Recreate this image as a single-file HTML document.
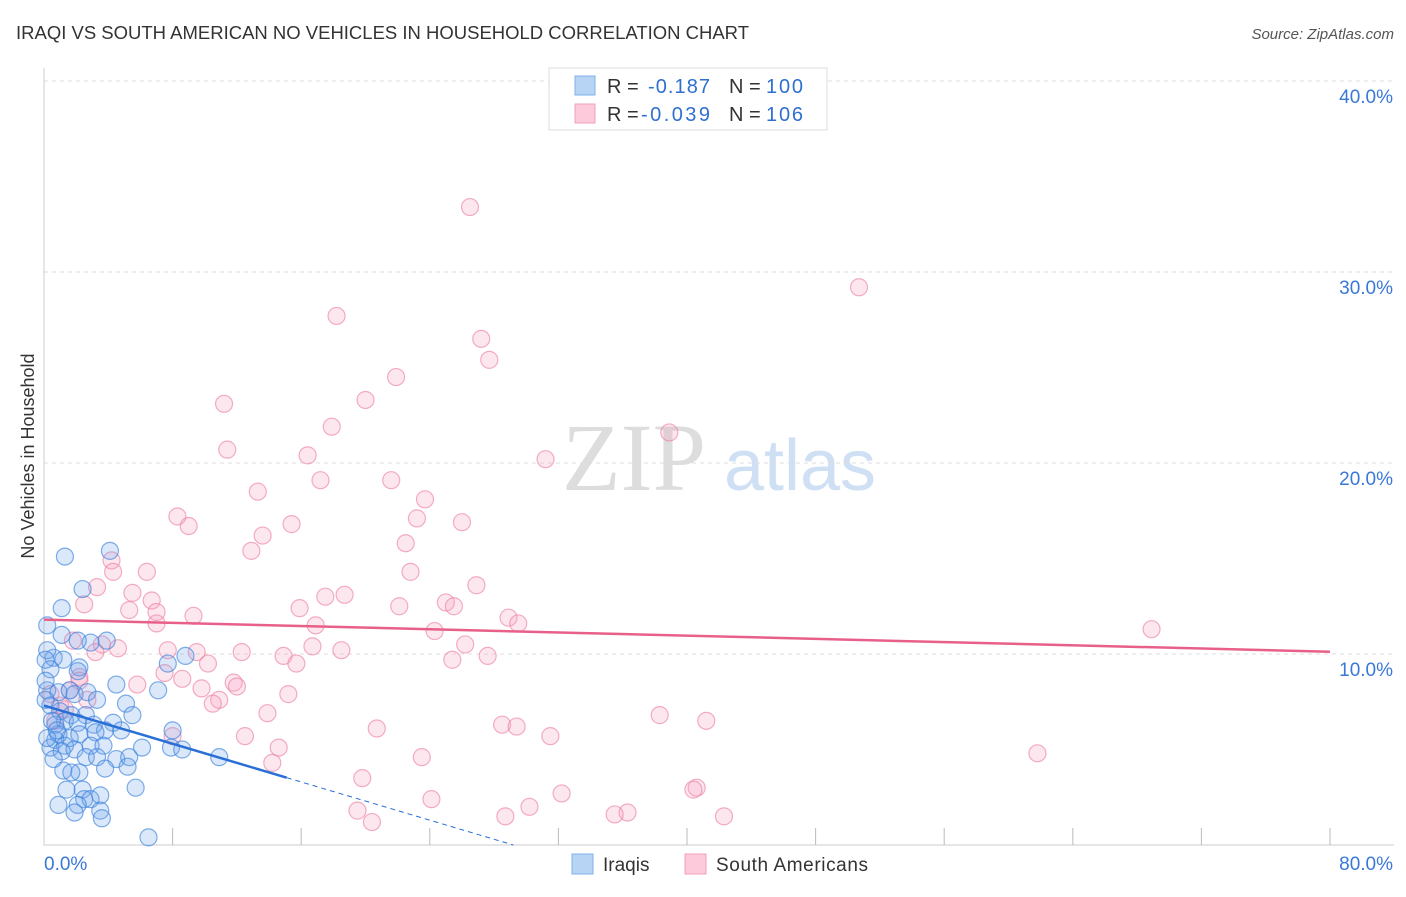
<!DOCTYPE html>
<html><head><meta charset="utf-8"><style>
body{margin:0;background:#fff;font-family:"Liberation Sans",sans-serif;}
svg text{font-family:"Liberation Sans",sans-serif;}
</style></head><body>
<svg id="chart" width="1406" height="892" viewBox="0 0 1406 892">
<text x="16" y="39" font-size="18" fill="#333" textLength="733" lengthAdjust="spacingAndGlyphs">IRAQI VS SOUTH AMERICAN NO VEHICLES IN HOUSEHOLD CORRELATION CHART</text>
<text x="1394" y="39" font-size="15" fill="#555" font-style="italic" text-anchor="end">Source: ZipAtlas.com</text>
<text transform="translate(34,456) rotate(-90)" font-size="18" fill="#333" text-anchor="middle">No Vehicles in Household</text>
<g>
<text x="634" y="490" font-size="96" fill="#ddd" font-family="Liberation Serif" text-anchor="middle" style="font-family:'Liberation Serif',serif">ZIP</text>
<text x="800" y="490" font-size="72" fill="#cfe0f4" text-anchor="middle">atlas</text>
</g>
<g id="grid"></g><g id="axes"></g><g id="pts"></g><g id="trends"></g>
<g>
<rect x="549" y="68" width="278" height="62" fill="#fff" stroke="#ddd"/>
<rect x="575" y="76" width="20" height="19" fill="#b8d4f4" stroke="#7fb0e8"/>
<rect x="575" y="104" width="20" height="19" fill="#fccada" stroke="#f0a0b8"/>
<text x="607" y="93" font-size="20" fill="#333">R = </text><text x="648" y="93" font-size="20" fill="#2f6fd0" textLength="62">-0.187</text>
<text x="729" y="93" font-size="20" fill="#333">N = </text><text x="766" y="93" font-size="20" fill="#2f6fd0" textLength="37">100</text>
<text x="607" y="121" font-size="20" fill="#333">R = </text><text x="641" y="121" font-size="20" fill="#2f6fd0" textLength="69">-0.039</text>
<text x="729" y="121" font-size="20" fill="#333">N = </text><text x="766" y="121" font-size="20" fill="#2f6fd0" textLength="37">106</text>
</g>
<g>
<rect x="572" y="854" width="21" height="20" fill="#b8d4f4" stroke="#7fb0e8"/>
<text x="603" y="871" font-size="19" fill="#333">Iraqis</text>
<rect x="685" y="854" width="21" height="20" fill="#fccada" stroke="#f0a0b8"/>
<text x="716" y="871" font-size="19" fill="#333" textLength="152">South Americans</text>
</g>
</svg>
<script>
const yTicks=[10,20,30,40];
const xLabels=["0.0%","80.0%"];
const blueX=[4.1,1.3,2.4,1.1,0.2,1.1,2.9,3.9,2.1,0.6,1.2,2.2,2.1,7.7,8.8,0.4,0.2,1.6,0.9,1.9,2.7,4.5,7.1,3.3,5.1,0.4,1.0,1.7,2.6,1.3,0.7,2.1,3.1,4.3,5.5,3.8,4.8,8.0,0.9,1.6,2.2,3.2,0.7,1.3,2.9,3.7,6.1,7.9,8.6,0.4,1.1,1.9,2.6,3.3,4.5,5.3,10.9,1.2,2.2,3.8,1.7,5.2,0.6,2.4,1.4,5.7,2.5,2.9,3.5,2.1,0.9,3.5,1.9,3.6,6.5,0.2,0.5,0.8,0.1,0.1,0.2,0.1];
const blueY=[15.4,15.1,13.4,12.4,11.5,11.0,10.6,10.7,10.7,9.8,9.7,9.3,9.1,9.5,9.9,9.2,8.1,8.1,8.0,7.9,8.0,8.4,8.1,7.6,7.4,7.3,7.0,6.8,6.8,6.5,6.3,6.4,6.3,6.4,6.8,6.0,6.0,6.0,5.8,5.6,5.8,5.9,5.5,5.2,5.2,5.2,5.1,5.1,5.0,5.1,4.9,5.0,4.6,4.6,4.5,4.6,4.6,3.9,3.8,4.0,3.8,4.1,4.5,2.9,2.9,3.0,2.4,2.4,2.6,2.1,2.1,1.8,1.7,1.4,0.4,5.6,6.5,6.0,7.6,8.6,10.2,9.7];
const pinkX=[26.5,50.7,18.2,27.2,27.7,21.9,20.0,11.2,17.9,38.9,11.4,16.4,31.2,17.2,21.6,13.3,23.7,8.3,9.0,23.2,26.0,15.4,13.6,22.5,12.9,4.2,4.3,6.4,22.8,26.9,3.3,5.5,6.7,17.5,18.7,25.0,25.5,22.1,2.5,5.3,7.0,9.3,15.9,28.9,29.5,16.9,7.0,68.9,24.3,1.8,3.6,4.6,16.7,26.2,18.5,7.7,9.5,12.3,14.9,25.4,27.6,3.2,10.2,15.7,7.5,2.2,8.6,5.8,9.8,11.8,12.0,15.2,10.9,10.5,13.9,38.3,41.2,28.5,29.4,20.7,12.5,31.5,8.0,14.6,61.8,23.5,14.2,19.8,40.6,40.4,32.2,24.1,30.2,19.5,28.7,36.3,35.5,42.3,20.4,2.2,1.0,1.6,0.7,1.3,2.7,0.4];
const pinkY=[33.4,29.2,27.7,26.5,25.4,24.5,23.3,23.1,21.9,21.6,20.7,20.4,20.2,19.1,19.1,18.5,18.1,17.2,16.7,17.1,16.9,16.8,16.2,15.8,15.4,14.9,14.3,14.3,14.3,13.6,13.5,13.2,12.8,13.0,13.1,12.7,12.5,12.5,12.6,12.3,12.2,12.0,12.4,11.9,11.6,11.5,11.6,11.3,11.2,10.7,10.5,10.3,10.4,10.5,10.2,10.2,10.1,10.1,9.9,9.7,9.9,10.1,9.5,9.5,9.0,8.8,8.7,8.4,8.2,8.5,8.3,7.9,7.6,7.4,6.9,6.8,6.5,6.3,6.2,6.1,5.7,5.7,5.7,5.1,4.8,4.6,4.3,3.5,3.0,2.9,2.7,2.4,2.0,1.8,1.5,1.7,1.6,1.5,1.2,8.6,7.3,8.1,6.5,7.1,7.6,7.9];
const blueTrend=[7.3,-0.25];
const pinkTrend=[11.8,-0.021];
const NS="http://www.w3.org/2000/svg";
const X0=44,X1=1330,Y0=845,PXY=19.1;
const sx=v=>X0+(X1-X0)*v/80;
const sy=v=>Y0-v*PXY;
function mk(tag,attrs,parent){const e=document.createElementNS(NS,tag);for(const k in attrs)e.setAttribute(k,attrs[k]);parent.appendChild(e);return e;}
const grid=document.getElementById('grid'),axes=document.getElementById('axes'),pts=document.getElementById('pts'),tr=document.getElementById('trends');
yTicks.forEach(t=>{
  const l=mk('line',{x1:X0,x2:1394,y1:sy(t),y2:sy(t),stroke:'#ddd','stroke-dasharray':'4,4'},grid);
  
  
  const tx=mk('text',{x:1393,y:sy(t)+22,'font-size':19,fill:'#3a78d8','text-anchor':'end'},grid);
  tx.textContent=t.toFixed(1)+'%';
  
  
});
const ax=mk('path',{d:`M${X0} 68V${Y0}H1394`,stroke:'#ccc',fill:'none'},axes);


for(let i=1;i<=10;i++){
  const t=mk('line',{x1:sx(i*8),x2:sx(i*8),y1:828,y2:Y0,stroke:'#bbb'},axes);
  
  
}
const xl0=mk('text',{x:44,y:870,'font-size':19,fill:'#3a78d8'},axes);xl0.textContent=xLabels[0];


const xl1=mk('text',{x:1393,y:870,'font-size':19,fill:'#3a78d8','text-anchor':'end'},axes);xl1.textContent=xLabels[1];


pinkX.forEach((x,i)=>{
  const c=mk('circle',{cx:sx(x),cy:sy(pinkY[i]),r:8.5,fill:'rgba(247,160,190,0.25)',stroke:'rgba(236,130,165,0.65)','stroke-width':1.2},pts);
  
  
});
blueX.forEach((x,i)=>{
  const c=mk('circle',{cx:sx(x),cy:sy(blueY[i]),r:8.5,fill:'rgba(110,165,235,0.25)',stroke:'rgba(60,130,220,0.65)','stroke-width':1.2},pts);
  
  
});
const pl=mk('line',{x1:sx(0),y1:sy(pinkTrend[0]),x2:sx(80),y2:sy(pinkTrend[0]+80*pinkTrend[1]),stroke:'#e8608a','stroke-width':2.5},tr);


const xe=15.1,xz=-blueTrend[0]/blueTrend[1];
const bl=mk('line',{x1:sx(0),y1:sy(blueTrend[0]),x2:sx(xe),y2:sy(blueTrend[0]+xe*blueTrend[1]),stroke:'#2a6fd6','stroke-width':2.5},tr);


const bd=mk('line',{x1:sx(xe),y1:sy(blueTrend[0]+xe*blueTrend[1]),x2:sx(xz),y2:sy(0),stroke:'#2a6fd6','stroke-width':1,'stroke-dasharray':'5,4'},tr);


</script>
</body></html>
